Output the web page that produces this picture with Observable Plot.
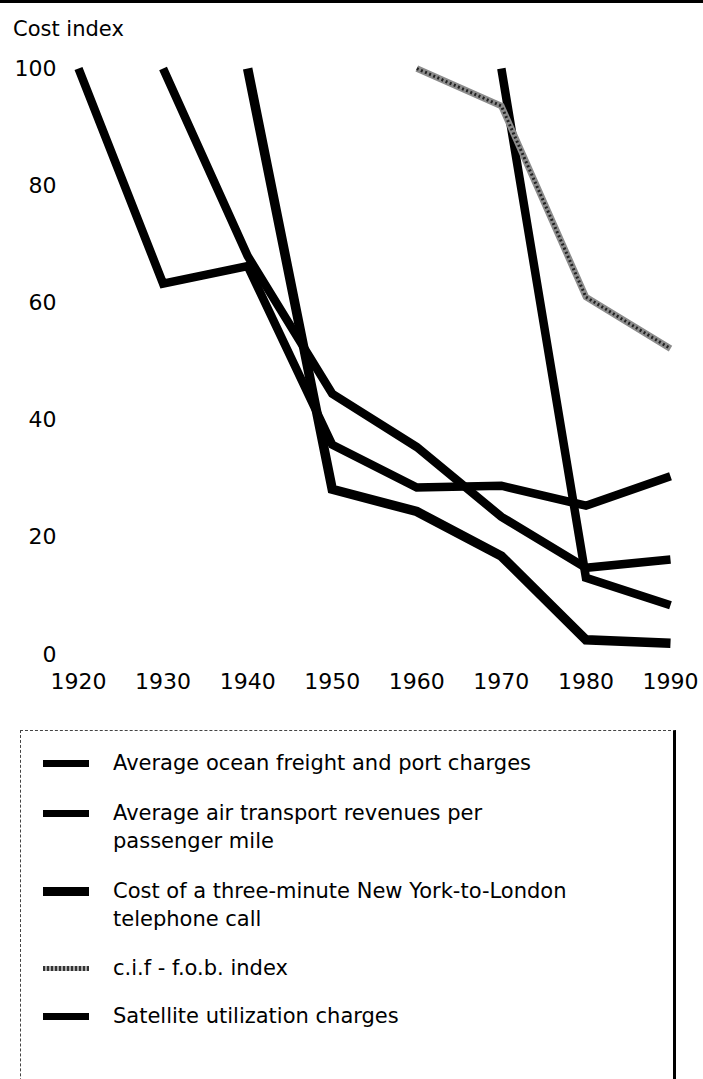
<!DOCTYPE html>
<html>
<head>
<meta charset="utf-8">
<script src="https://cdn.jsdelivr.net/npm/d3@7"></script>
<script src="https://cdn.jsdelivr.net/npm/@observablehq/plot@0.6"></script>
<style>
  body { margin: 0; background: #fff; font-family: "DejaVu Sans", sans-serif; color: #000; }
  #wrap { position: relative; width: 703px; height: 1079px; overflow: hidden; background: #fff; }
  #rule { position: absolute; left: 0; top: 0; width: 703px; height: 3px; background: #000; }
  #chart { position: absolute; left: 0; top: 0; }
  #ytitle { position: absolute; left: 13px; top: 16px; font-size: 21px; line-height: 26px; color: #000; }
  #legend { position: absolute; left: 20px; top: 730px; width: 652px; height: 420px;
            border-top: 1.5px dashed #444; border-left: 1.5px dashed #444; border-right: 3px solid #000; }
  .item { position: absolute; left: 0; width: 640px; height: 56px; }
  .sw { position: absolute; left: 22px; width: 46px; }
  .lab { position: absolute; left: 92px; top: 0; font-size: 21px; line-height: 28px; white-space: pre-line; color: #000; }
</style>
</head>
<body>
<div id="wrap">
  <div id="chart"></div>
  <div id="rule"></div>
  <div id="ytitle"></div>
  <div id="legend"></div>
</div>
<script>
// ---- data ----
const years = [1920, 1930, 1940, 1950, 1960, 1970, 1980, 1990];
const yTicks = [0, 20, 40, 60, 80, 100];
const yTitle = "Cost index";

const oceanFreight = [100, 63.3, 66.3, 35.8, 28.5, 28.8, 25.4, 30.4];
const airTransport = [null, 100, 68, 44.5, 35.4, 23.5, 14.8, 16.2];
const telephoneCall = [null, null, 100, 28.2, 24.4, 16.8, 2.5, 1.9];
const cifFob = [null, null, null, null, 100, 93.6, 61, 52.2];
const satellite = [null, null, null, null, null, 100, 13.1, 8.4];

const seriesNames = [
  "Average ocean freight and port charges",
  "Average air transport revenues per\npassenger mile",
  "Cost of a three-minute New York-to-London\ntelephone call",
  "c.i.f - f.o.b. index",
  "Satellite utilization charges"
];

function rows(values, name) {
  return years.map((year, i) => ({year, value: values[i], series: name}))
              .filter(d => d.value != null);
}

const lineStyle = {x: "year", y: "value", stroke: "#000", strokeLinejoin: "miter", strokeLinecap: "butt", strokeMiterlimit: 10};

const plot = Plot.plot({
  width: 703,
  height: 700,
  marginTop: 68,
  marginBottom: 46,
  marginLeft: 78,
  marginRight: 33,
  style: {fontFamily: "DejaVu Sans, sans-serif", color: "#000", background: "transparent"},
  x: {domain: [1920, 1990], label: null},
  y: {domain: [0, 100], label: null},
  marks: [
    Plot.axisY({ticks: yTicks, tickSize: 0, tickPadding: 22, fontSize: 22, label: null}),
    Plot.axisX({ticks: years, tickSize: 0, tickPadding: 19, fontSize: 22, label: null, tickFormat: d => String(d)}),
    Plot.line(rows(oceanFreight, seriesNames[0]), {...lineStyle, strokeWidth: 8.5}),
    Plot.line(rows(airTransport, seriesNames[1]), {...lineStyle, strokeWidth: 8.5}),
    Plot.line(rows(telephoneCall, seriesNames[2]), {...lineStyle, strokeWidth: 9.5}),
    Plot.line(rows(satellite, seriesNames[4]), {...lineStyle, strokeWidth: 8.5}),
    Plot.line(rows(cifFob, seriesNames[3]), {...lineStyle, stroke: "#8c8c8c", strokeWidth: 6.5}),
    Plot.line(rows(cifFob, seriesNames[3]), {...lineStyle, stroke: "#222", strokeWidth: 3, strokeDasharray: "2,2.5"})
  ]
});
document.getElementById("chart").appendChild(plot);
document.getElementById("ytitle").textContent = yTitle;

// ---- legend ----
const legendTops = [18, 68, 146, 223, 271];
const swatchStyles = [
  {h: 7, bg: "#000"},
  {h: 7, bg: "#000"},
  {h: 9, bg: "#000"},
  {h: 5, bg: "repeating-linear-gradient(90deg,#333 0 2px,#aaa 2px 4px)"},
  {h: 7, bg: "#000"}
];
const legend = document.getElementById("legend");
seriesNames.forEach((name, i) => {
  const item = document.createElement("div");
  item.className = "item";
  item.style.top = legendTops[i] + "px";
  const sw = document.createElement("div");
  sw.className = "sw";
  sw.style.height = swatchStyles[i].h + "px";
  sw.style.top = (14 - swatchStyles[i].h / 2) + "px";
  sw.style.background = swatchStyles[i].bg;
  const lab = document.createElement("div");
  lab.className = "lab";
  lab.textContent = name;
  item.appendChild(sw);
  item.appendChild(lab);
  legend.appendChild(item);
});
</script>
</body>
</html>
